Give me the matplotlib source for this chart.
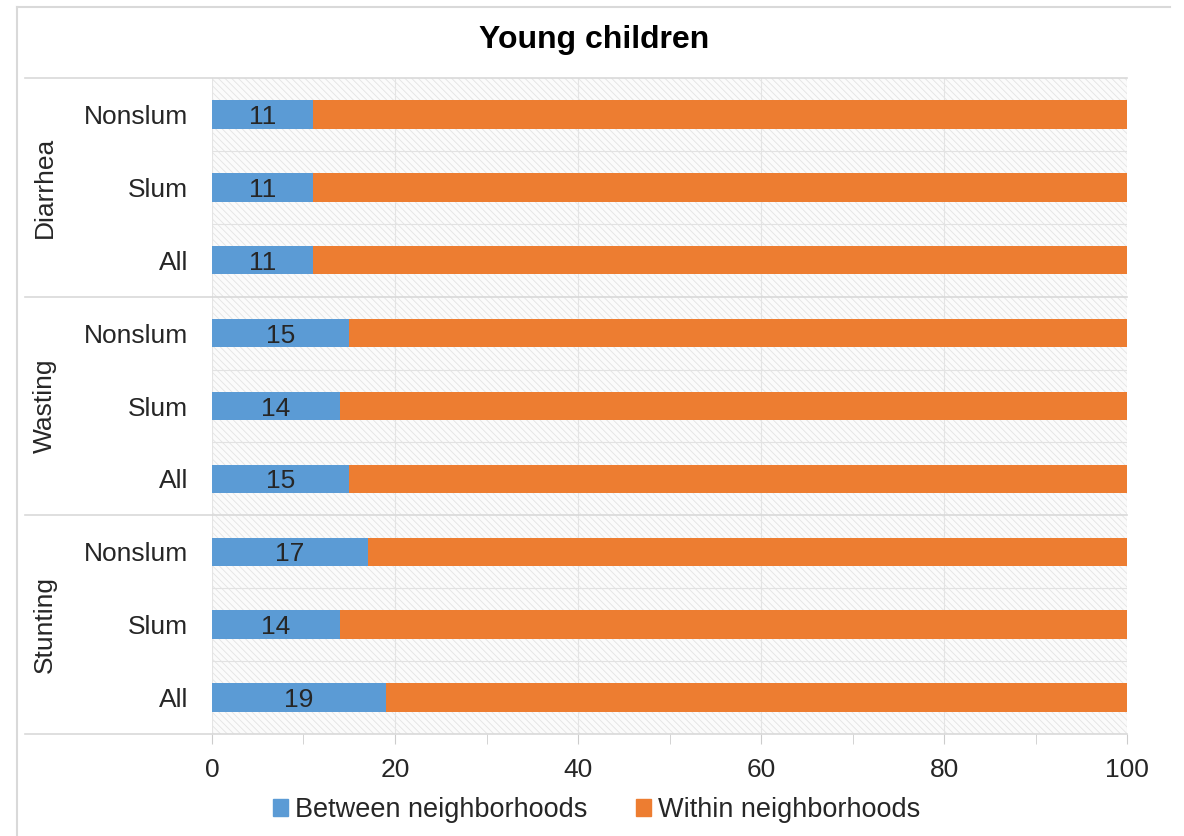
import matplotlib.pyplot as plt
import matplotlib.transforms as mtransforms
from matplotlib.patches import Patch, Rectangle
import numpy as np

plt.rcParams['font.family'] = ['Liberation Sans', 'DejaVu Sans']
plt.rcParams['hatch.linewidth'] = 0.6

# outcomes (groups) and sub-populations, top to bottom
groups = ["Diarrhea", "Wasting", "Stunting"]
subgroups = ["Nonslum", "Slum", "All"]

# share of variance between neighborhoods (%), same order as above
between = [11, 11, 11,
           15, 14, 15,
           17, 14, 19]
within = [100 - b for b in between]

series_names = ["Between neighborhoods", "Within neighborhoods"]
blue = "#5B9BD5"
orange = "#ED7D31"
grid_col = "#d9d9d9"
text_col = "#262626"

fig = plt.figure(figsize=(11.84, 8.36), dpi=100)
ax = fig.add_axes([0.179, 0.122, 0.773, 0.7847])

labels = subgroups * len(groups)
y = np.arange(len(labels))

# hatched plot background
bg = Rectangle((0, 0), 1, 1, transform=ax.transAxes, facecolor="#fbfbfb",
               edgecolor="#e3e3e3", hatch="\\\\\\\\\\", linewidth=0, zorder=0)
ax.add_patch(bg)

ax.barh(y, between, height=0.39, color=blue, zorder=3)
ax.barh(y, within, left=between, height=0.39, color=orange, zorder=3)

for yi, b in zip(y, between):
    ax.text(b / 2, yi, f"{b}", ha="center", va="center_baseline", fontsize=19,
            color=text_col, zorder=4)

ax.set_xlim(0, 100)
ax.set_ylim(len(labels) - 0.5, -0.5)
ax.set_yticks(y)
ax.set_yticklabels(labels, fontsize=19, color=text_col)
ax.set_xticks(np.arange(0, 101, 20))
ax.set_xticks(np.arange(10, 100, 20), minor=True)
ax.tick_params(axis="x", which="both", length=7, color="#cccccc", direction="out",
               labelsize=19, labelcolor=text_col, pad=10)
ax.tick_params(axis="y", length=0, pad=17)

for s in ax.spines.values():
    s.set_visible(False)

# vertical grid
for xv in np.arange(0, 101, 20):
    ax.axvline(xv, color="#e4e4e4", linewidth=0.8, zorder=1)

# thin lines between categories, longer lines between groups
trans = mtransforms.blended_transform_factory(ax.transAxes, ax.transData)
for yb in np.arange(-0.5, len(labels), 1.0):
    if round(yb + 0.5) % 3 == 0:
        ax.plot([-0.204, 1.0], [yb, yb], transform=trans,
                color=grid_col, linewidth=1.2, clip_on=False, zorder=2)
    else:
        ax.axhline(yb, color="#e2e2e2", linewidth=0.8, zorder=1)

# group names, rotated on the left
for i, g in enumerate(groups):
    ax.text(-0.1825, i * 3 + 1, g, rotation=90, ha="center", va="center",
            fontsize=19, color=text_col, transform=trans)

fig.text(0.502, 0.952, "Young children", ha="center", va="center",
         fontsize=23, fontweight="bold", color="black")

handles = [Patch(color=blue), Patch(color=orange)]
fig.legend(handles, series_names, loc="center", bbox_to_anchor=(0.504, 0.031),
           ncol=2, frameon=False, fontsize=19.5, handlelength=0.55, handleheight=0.55,
           handletextpad=0.25, columnspacing=1.8, labelcolor=text_col)

# chart border (top and left)
fig.add_artist(plt.Line2D([17 / 1184, 17 / 1184], [0, 1 - 7 / 836], color=grid_col,
                          linewidth=1.5, transform=fig.transFigure))
fig.add_artist(plt.Line2D([17 / 1184, 1170 / 1184], [1 - 7 / 836, 1 - 7 / 836], color=grid_col,
                          linewidth=1.5, transform=fig.transFigure))

fig.savefig("out.png", dpi=100)
